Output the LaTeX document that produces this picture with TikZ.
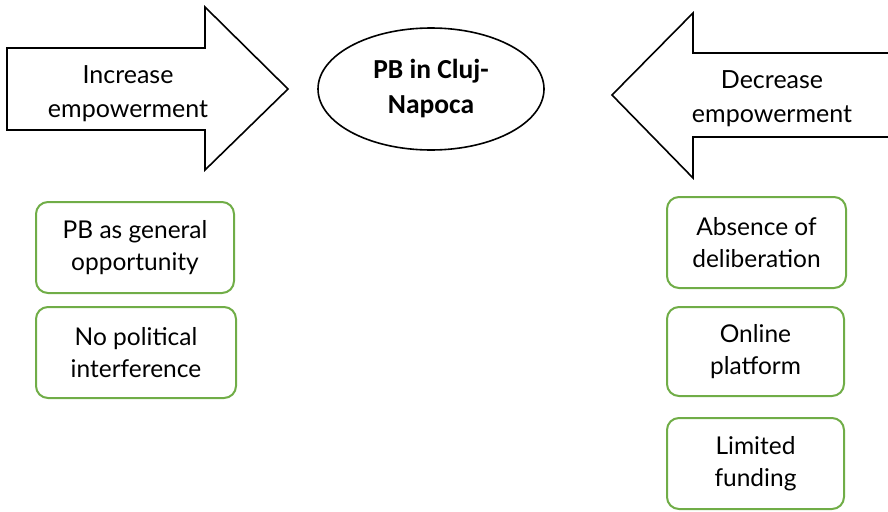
\documentclass[tikz,border=0pt]{standalone}
\usepackage{fontspec}
\setmainfont{Lato}
\newfontfamily\titlefont{Carlito}
\usetikzlibrary{shapes.geometric}
\definecolor{boxgreen}{RGB}{112,173,71}
\tikzset{
    factor/.style={draw=boxgreen, line width=2pt, rounded corners=12pt, align=center, font=\fontsize{24.5}{32}\selectfont},
    bigarrow/.style={draw, line width=1.6pt, fill=white, line join=miter},
    arrowtext/.style={align=center, font=\fontsize{25}{34}\selectfont},
    pb/.style={draw, ellipse, line width=1.6pt, minimum width=226pt, minimum height=122pt, align=center, font=\titlefont\bfseries\fontsize{27.5}{35}\selectfont}
}

\begin{document}
\begin{tikzpicture}[x=1pt, y=-1pt]
    \useasboundingbox (0,0) rectangle (888,511);

    % arrows
    \draw[bigarrow] (7,48) -- (205,48) -- (205,7) -- (288,89) -- (205,170) -- (205,130) -- (7,130) -- cycle;
    \node[arrowtext] (inc) at (128,94) {Increase\\empowerment};
    \draw[bigarrow] (892,53) -- (693,53) -- (693,13) -- (612,95) -- (693,178) -- (693,137) -- (892,137);
    \node[arrowtext] (dec) at (772,99) {Decrease\\empowerment};

    % centre
    \node[pb] (cluj) at (431,89) {PB in Cluj-\\Napoca};

    % factors
    \node[factor, minimum width=198pt, minimum height=91pt] (general) at (135,247.5) {PB as general\\opportunity};
    \node[factor, minimum width=200pt, minimum height=91pt] (interf) at (136,352.5) {No political\\interference};
    \node[factor, minimum width=179pt, minimum height=91pt] (delib) at (756.5,242.5) {Absence of\\deliberation};
    \node[factor, minimum width=177pt, minimum height=89pt] (online) at (755.5,351.5) {Online\\platform};
    \node[factor, minimum width=177pt, minimum height=91pt] (funding) at (755.5,463.5) {Limited\\funding};
\end{tikzpicture}
\end{document}
